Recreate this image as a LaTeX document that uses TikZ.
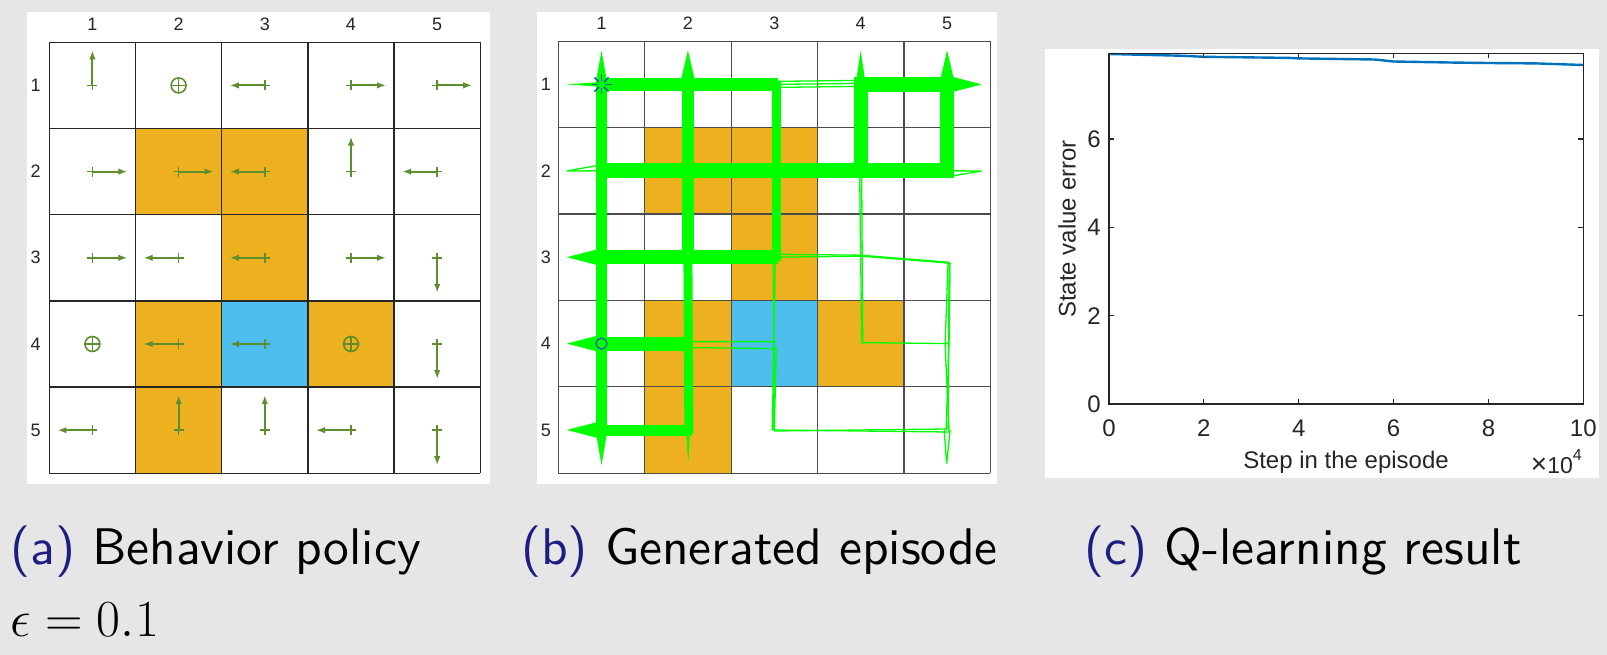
\RequirePackage{fix-cm}
\documentclass[tikz,border=0pt]{standalone}
\usepackage{fontspec}
\newfontfamily\plotfont{Liberation Sans}
\newfontfamily\capfont{lmsans10-regular.otf}
\usetikzlibrary{arrows.meta,calc}
\definecolor{bg}{HTML}{E6E6E6}
\definecolor{forb}{HTML}{EDB120}
\definecolor{targ}{HTML}{4DBEEE}
\definecolor{arr}{HTML}{5E8E2E}
\definecolor{traj}{HTML}{00FF00}
\definecolor{mblue}{HTML}{0072BD}
\definecolor{mkblue}{HTML}{1F5FA8}
\definecolor{capblue}{RGB}{30,30,130}
\definecolor{axgray}{HTML}{262626}
\newcommand{\spk}[3]{\fill[traj] ($(#1)!#3pt!90:(#2)$) -- (#2) -- ($(#1)!#3pt!-90:(#2)$) -- cycle;}
\tikzset{
  gridA/.style={black!85, line width=1.3pt},
  gridB/.style={black!70, line width=1.2pt},
  polarrow/.style={arr, line width=2.1pt, -{Latex[length=9pt,width=6.5pt]}},
  polmark/.style={arr, line width=1.6pt},
  lab/.style={inner sep=0pt, font=\fontsize{18}{20}\selectfont\plotfont, text=black!85},
  plab/.style={inner sep=0pt, font=\fontsize{24}{26}\selectfont\plotfont, text=axgray},
  trajthin/.style={traj, line width=1.3pt},
  trajthick/.style={traj, line width=#1pt},
  caption/.style={inner sep=0pt, anchor=base west, font=\fontsize{51.5}{60}\selectfont\capfont},
  axis/.style={axgray, line width=1.1pt},
}
\begin{document}
\begin{tikzpicture}[x=1pt,y=-1pt]
\useasboundingbox (0,0) rectangle (1607,655);
\fill[bg] (0,0) rectangle (1607,655);

%% ================= panel (a) =================
\fill[white] (27,12) rectangle (490,484);
\foreach \r/\c in {2/2,2/3,3/3,4/2,4/4,5/2}
  \fill[forb] ({49.3+(\c-1)*86.2},{42.3+(\r-1)*86.2}) rectangle ++(86.2,86.2);
\fill[targ] ({49.3+2*86.2},{42.3+3*86.2}) rectangle ++(86.2,86.2);
\foreach \i in {0,...,5} {
  \draw[gridA] ({49.3+\i*86.2},42.3) -- ({49.3+\i*86.2},473.3);
  \draw[gridA] (49.3,{42.3+\i*86.2}) -- (480.3,{42.3+\i*86.2});
}
\foreach \k in {1,...,5} {
  \node[lab] (acol\k) at ({49.3+(\k-0.5)*86.2},24.5) {\k};
  \node[lab] (arow\k) at (35.7,{42.3+(\k-0.5)*86.2}) {\k};
  \foreach \c in {1,...,5}
    \coordinate (a\k\c) at ({49.3+(\c-0.5)*86.2},{42.3+(\k-0.5)*86.2});
}
\foreach \r/\c/\dx/\dy in {1/1/0/-1,1/3/-1/0,1/4/1/0,1/5/1/0,
  2/1/1/0,2/2/1/0,2/3/-1/0,2/4/0/-1,2/5/-1/0,
  3/1/1/0,3/2/-1/0,3/3/-1/0,3/4/1/0,3/5/0/1,
  4/2/-1/0,4/3/-1/0,4/5/0/1,
  5/1/-1/0,5/2/0/-1,5/3/0/-1,5/4/-1/0,5/5/0/1} {
  \draw[polarrow] (a\r\c) -- ++({35*\dx},{35*\dy});
  \draw[polmark] ($(a\r\c)+(-5,0)$) -- ($(a\r\c)+(5,0)$)
                 ($(a\r\c)+(0,-5)$) -- ($(a\r\c)+(0,5)$);
}
\foreach \r/\c in {1/2,4/1,4/4} {
  \draw[polmark] (a\r\c) circle (7.5);
  \draw[polmark] ($(a\r\c)+(-7.5,0)$) -- ($(a\r\c)+(7.5,0)$)
                 ($(a\r\c)+(0,-7.5)$) -- ($(a\r\c)+(0,7.5)$);
}

%% ================= panel (b) =================
\fill[white] (536.7,12.3) rectangle (997,484);
\foreach \r/\c in {2/2,2/3,3/3,4/2,4/4,5/2}
  \fill[forb] ({558.3+(\c-1)*86.4},{41.2+(\r-1)*86.4}) rectangle ++(86.4,86.4);
\fill[targ] ({558.3+2*86.4},{41.2+3*86.4}) rectangle ++(86.4,86.4);
\foreach \i in {0,...,5} {
  \draw[gridB] ({558.3+\i*86.4},41.2) -- ({558.3+\i*86.4},473.2);
  \draw[gridB] (558.3,{41.2+\i*86.4}) -- (990.3,{41.2+\i*86.4});
}
\foreach \k in {1,...,5} {
  \node[lab] (bcol\k) at ({558.3+(\k-0.5)*86.4},23.3) {\k};
  \node[lab] (brow\k) at (546,{41.2+(\k-0.5)*86.4}) {\k};
  \foreach \c in {1,...,5}
    \coordinate (b\k\c) at ({558.3+(\c-0.5)*86.4},{41.2+(\k-0.5)*86.4});
}
% thin trajectories
\draw[trajthin] ($(b13)+(0,-3)$) -- ($(b14)+(-2,-4)$);
\draw[trajthin] ($(b13)+(1,0)$) -- ($(b14)+(-2,-1)$);
\draw[trajthin] ($(b13)+(2,3)$) -- ($(b14)+(-2,2)$);
\draw[trajthin] ($(b33)+(0,-3)$) -- ($(b34)+(0,-2)$) -- ($(b35)+(1,5)$);
\draw[trajthin] ($(b33)+(1,0)$) -- ($(b34)+(1,-1)$) -- ($(b35)+(3,6)$);
\draw[trajthin] ($(b33)+(1,1)$) -- ($(b53)+(-2,0)$);
\draw[trajthin] ($(b33)+(-1,1)$) -- ($(b53)+(0,-2)$);
\draw[trajthin] ($(b24)+(-1,6)$) -- ($(b44)+(1,-1)$) -- ($(b45)+(3,0)$);
\draw[trajthin] ($(b24)+(1,6)$) -- ($(b44)+(2,-2)$);
\draw[trajthin] ($(b35)+(1,5)$) -- ($(b45)+(-2,0)$) -- ($(b55)+(2,2)$);
\draw[trajthin] ($(b35)+(3,6)$) -- ($(b45)+(2,-4)$) -- ($(b55)+(-1,0)$);
\draw[trajthin] ($(b35)+(2,5)$) -- ($(b55)+(1,-1)$);
\draw[trajthin] ($(b42)+(0,-2)$) -- ($(b43)+(0,-2)$) -- ($(b53)+(-1,0)$);
\draw[trajthin] ($(b42)+(0,4)$) -- ($(b43)+(2,5)$) -- ($(b53)+(0,1)$);
\draw[trajthin] ($(b53)+(-2,0)$) -- ($(b55)+(2,2)$);
\draw[trajthin] ($(b53)+(0,1)$) -- ($(b55)+(-1,-1)$);
\draw[trajthin] (b25) -- (981.7,171) -- ($(b25)+(0,6)$);
\draw[trajthin] (b21) -- (566.7,171) -- ($(b21)+(0,-6)$);
\draw[trajthin] ($(b55)+(-3,0)$) -- (946.7,463.5) -- ($(b55)+(3,0)$);
% thick bands
\draw[trajthick=13] ($(b11)+(-3,0)$) -- ($(b13)+(4,0)$);
\draw[trajthick=15] ($(b14)+(-7,0)$) -- ($(b15)+(7,0)$);
\draw[trajthick=15] ($(b21)+(-3,0)$) -- ($(b25)+(7,0)$);
\draw[trajthick=14] ($(b31)+(-3,0)$) -- ($(b33)+(4,0)$);
\draw[trajthick=14] ($(b41)+(-3,0)$) -- ($(b42)+(4,0)$);
\draw[trajthick=11] ($(b51)+(-3,0)$) -- ($(b52)+(4,0)$);
\draw[trajthick=11] (b11) -- (b51);
\draw[trajthick=12] ($(b12)+(0,-3)$) -- (b32);
\draw[trajthick=9]  (b32) -- ($(b52)+(1,4)$);
\draw[trajthick=9]  ($(b13)+(2,-3)$) -- ($(b33)+(2,4)$);
\draw[trajthick=14] ($(b14)+(0,-7)$) -- ($(b24)+(0,7)$);
\draw[trajthick=14] ($(b15)+(0,-7)$) -- ($(b25)+(0,7)$);
% spikes
\spk{b11}{601.5,50.5}{6}
\spk{b12}{687.9,50.5}{8}
\spk{b14}{860.7,50.5}{5}
\spk{b15}{947.1,50.5}{8}
\spk{b11}{566.7,84.4}{2.5}
\spk{b31}{566.7,257.2}{9}
\spk{b41}{566.7,343.6}{9}
\spk{b51}{566.7,430.0}{9}
\spk{b15}{981.7,84.4}{9}
\spk{b51}{601.5,465}{6}
\spk{b52}{688.3,463}{2}
% markers
\foreach \a in {0,45,...,315}
  \draw[mkblue, line width=1.6pt] ($(b11)+(\a:3.5)$) -- ($(b11)+(\a:10)$);
\draw[mkblue, line width=1.3pt] (b41) circle (5.5);

%% ================= panel (c) =================
\fill[white] (1045,49.3) rectangle (1599,478.3);
\draw[mblue, line width=2.4pt, line join=round]
  (1109,54.0) -- (1180.1,55.7) -- (1203.9,56.8) -- (1289.2,57.9) -- (1298.7,58.4)
  -- (1374.6,59.5) -- (1393.6,61.5) -- (1455.2,62.6) -- (1488.4,63.0)
  -- (1535.9,63.4) -- (1583.3,65.0);
\draw[axis] (1109,53.3) rectangle (1583.3,404);
\foreach \v in {0,2,4,6,8,10} {
  \draw[axis] ({1109+47.43*\v},404) -- ++(0,-5);
  \draw[axis] ({1109+47.43*\v},53.3) -- ++(0,5);
  \node[plab, anchor=base] (xt\v) at ({1109+47.43*\v},436) {\v};
}
\foreach \v in {0,2,4,6} {
  \draw[axis] (1109,{404-44.17*\v}) -- ++(5,0);
  \draw[axis] (1583.3,{404-44.17*\v}) -- ++(-5,0);
  \node[plab, anchor=east] (yt\v) at (1101,{404-44.17*\v}) {\v};
}
\node[plab, anchor=base] (xlab) at (1346,468) {Step in the episode};
\node[plab, rotate=90] (ylab) at (1067,229) {State value error};
\node[plab, anchor=base east, font=\fontsize{23}{25}\selectfont\plotfont] (xmul) at (1582,473)
  {{\fontsize{28}{28}\selectfont ×}10\raisebox{0.55em}{\fontsize{16}{16}\selectfont 4}};

%% ================= captions =================
\node[caption] (capa) at (10,564) {\textcolor{capblue}{(a)} Behavior policy};
\node[caption] (capb) at (521,564) {\textcolor{capblue}{(b)} Generated episode};
\node[caption] (capc) at (1084,564) {\textcolor{capblue}{(c)} Q-learning result};
\node[inner sep=0pt, anchor=base west, font=\fontsize{52}{60}\selectfont] (eps) at (10,636) {$\epsilon = 0.1$};
\end{tikzpicture}
\end{document}
